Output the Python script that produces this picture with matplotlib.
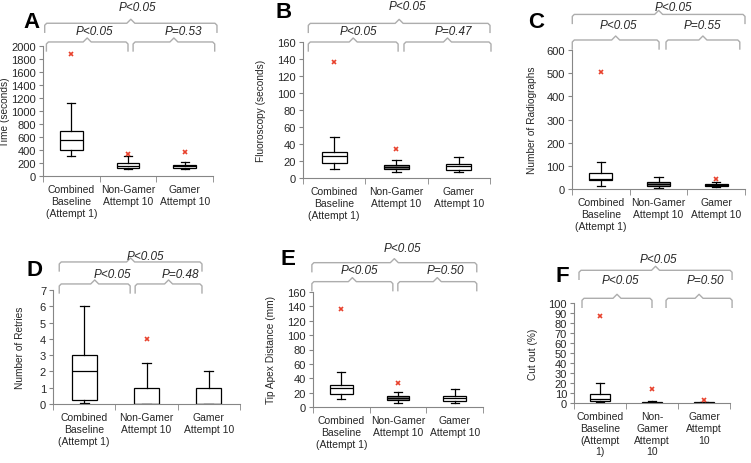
import matplotlib
matplotlib.use('Agg')
import matplotlib.pyplot as plt

plt.rcParams['font.family'] = ['Liberation Sans', 'DejaVu Sans']

# category labels
groups = ['Combined\nBaseline\n(Attempt 1)', 'Non-Gamer\nAttempt 10', 'Gamer\nAttempt 10']
groups_f = ['Combined\nBaseline\n(Attempt\n1)', 'Non-\nGamer\nAttempt\n10', 'Gamer\nAttempt\n10']

# A - time (seconds)
time_q1 = [400, 122, 128]
time_med = [550, 160, 148]
time_q3 = [690, 205, 170]
time_lo = [305, 110, 103]
time_hi = [1120, 305, 218]
time_out = [[1870], [345], [368]]

# B - fluoroscopy (seconds)
fluoro_q1 = [18, 10.5, 10]
fluoro_med = [26, 13, 14]
fluoro_q3 = [31, 15.5, 17]
fluoro_lo = [11, 6.5, 6.5]
fluoro_hi = [48, 21, 25]
fluoro_out = [[137], [34], []]

# C - number of radiographs
radio_q1 = [37, 11, 14]
radio_med = [45, 20, 17]
radio_q3 = [68, 31, 21]
radio_lo = [11, 3, 7]
radio_hi = [115, 50, 30]
radio_out = [[503], [], [45]]

# D - number of retries
retry_q1 = [0.25, 0, 0]
retry_med = [2, 0, 0]
retry_q3 = [3, 1, 1]
retry_lo = [0.05, 0, 0]
retry_hi = [6, 2.5, 2]
retry_out = [[], [4], []]

# E - tip apex distance (mm)
tad_q1 = [17.5, 9.5, 8.5]
tad_med = [26, 12, 13]
tad_q3 = [31, 15.5, 16]
tad_lo = [11, 6, 6]
tad_hi = [49, 21, 24.5]
tad_out = [[137], [34], []]

# F - cut out (%)
cut_q1 = [2, 0, 0]
cut_med = [4, 0.5, 0.5]
cut_q3 = [9, 1, 1]
cut_lo = [1, 0, 0]
cut_hi = [20.5, 2, 1]
cut_out = [[87], [14], [3]]

W, H = 751, 464
fig = plt.figure(figsize=(W / 100, H / 100), dpi=100)

gray = '#868686'
red = '#e8412c'

# panel layout in pixels: left, top, right, bottom
panels = [
    dict(letter='A', box=(43, 47, 213, 177), lpos=(32, 23), ylabel='Time (seconds)', ylx=-0.195,
         q1=time_q1, med=time_med, q3=time_q3, lo=time_lo, hi=time_hi, out=time_out,
         ylim=2000, step=200, labels=groups, fill=['white', 'white', 'white'],
         br=[(-0.47, 2.57, 1.175, 1.17, 1.298, 'P<0.05'),
             (-0.44, 1.0, 1.031, 0.41, 1.113, 'P<0.05'),
             (1.09, 2.53, 1.031, 1.97, 1.113, 'P=0.53')]),
    dict(letter='B', box=(303, 43, 490, 179), lpos=(284, 13), ylabel='Fluoroscopy (seconds)', ylx=-0.2,
         q1=fluoro_q1, med=fluoro_med, q3=fluoro_q3, lo=fluoro_lo, hi=fluoro_hi, out=fluoro_out,
         ylim=160, step=20, labels=groups, fill=['white', '#7f7f7f', 'white'],
         br=[(-0.415, 2.5, 1.137, 1.17, 1.262, 'P<0.05'),
             (-0.415, 1.026, 1.0, 0.386, 1.078, 'P<0.05'),
             (1.12, 2.516, 1.0, 1.907, 1.078, 'P=0.47')]),
    dict(letter='C', box=(572, 51, 745, 190), lpos=(536, 23), ylabel='Number of Radiographs', ylx=-0.2,
         q1=radio_q1, med=radio_med, q3=radio_q3, lo=radio_lo, hi=radio_hi, out=radio_out,
         ylim=600, step=100, labels=groups, fill=['white', '#7f7f7f', '#1a1a1a'],
         br=[(-0.495, 2.5, 1.256, 1.25, 1.31, 'P<0.05'),
             (-0.495, 1.01, 1.072, 0.30, 1.177, 'P<0.05'),
             (1.13, 2.41, 1.072, 1.76, 1.177, 'P=0.55')]),
    dict(letter='D', box=(53, 291, 240, 405), lpos=(34, 271), ylabel='Number of Retries', ylx=-0.15,
         q1=retry_q1, med=retry_med, q3=retry_q3, lo=retry_lo, hi=retry_hi, out=retry_out,
         ylim=7, step=1, labels=groups, fill=['white', 'white', 'white'],
         br=[(-0.4, 1.89, 1.246, 0.98, 1.298, 'P<0.05'),
             (-0.4, 0.738, 1.053, 0.45, 1.14, 'P<0.05'),
             (0.818, 1.89, 1.053, 1.54, 1.14, 'P=0.48')]),
    dict(letter='E', box=(313, 293, 483, 408), lpos=(288, 260), ylabel='Tip Apex Distance (mm)', ylx=-0.22,
         q1=tad_q1, med=tad_med, q3=tad_q3, lo=tad_lo, hi=tad_hi, out=tad_out,
         ylim=160, step=20, labels=groups, fill=['white', '#7f7f7f', 'white'],
         br=[(-0.52, 2.39, 1.255, 1.086, 1.383, 'P<0.05'),
             (-0.52, 0.909, 1.09, 0.325, 1.19, 'P<0.05'),
             (0.997, 2.39, 1.09, 1.83, 1.19, 'P=0.50')]),
    dict(letter='F', box=(574, 304, 730, 404), lpos=(562, 276), ylabel='Cut out (%)', ylx=-0.23,
         q1=cut_q1, med=cut_med, q3=cut_q3, lo=cut_lo, hi=cut_hi, out=cut_out,
         ylim=100, step=10, labels=groups_f, fill=['white', 'white', 'white'],
         br=[(-0.404, 2.54, 1.327, 1.115, 1.437, 'P<0.05'),
             (-0.346, 1.0, 1.047, 0.385, 1.227, 'P<0.05'),
             (1.27, 2.54, 1.047, 2.02, 1.227, 'P=0.50')]),
]


def bracket(ax, x0, x1, y, hpx, wpx, drop=9, notch=4, half=4):
    d = drop / hpx
    n = notch / hpx
    dx = half / wpx * 3
    r = 2 / wpx * 3
    xm = (x0 + x1) / 2
    xs = [x0, x0, x0 + r, xm - dx, xm, xm + dx, x1 - r, x1, x1]
    ys = [y - d, y - 2 / hpx, y, y, y + n, y, y, y - 2 / hpx, y - d]
    ax.plot(xs, ys, transform=ax.get_xaxis_transform(), clip_on=False,
            color='#adadad', lw=1)


for p in panels:
    l, t, r, b = p['box']
    ax = fig.add_axes([l / W, 1 - b / H, (r - l) / W, (b - t) / H])
    hpx, wpx = b - t, r - l
    stats = []
    for i in range(3):
        stats.append(dict(med=p['med'][i], q1=p['q1'][i], q3=p['q3'][i],
                          whislo=p['lo'][i], whishi=p['hi'][i], fliers=p['out'][i]))
    res = ax.bxp(stats, positions=[0, 1, 2], widths=0.4, patch_artist=True,
                 capwidths=0.14,
                 boxprops=dict(edgecolor='black', lw=0.9),
                 medianprops=dict(color='black', lw=0.9),
                 whiskerprops=dict(color='black', lw=0.9),
                 capprops=dict(color='black', lw=0.9),
                 flierprops=dict(marker='x', mec=red, mfc=red, ms=3.5, mew=1.2, ls='none'))
    for patch, fc in zip(res['boxes'], p['fill']):
        patch.set_facecolor(fc)

    ax.set_xlim(-0.5, 2.5)
    ax.set_ylim(0, p['ylim'])
    ax.set_yticks([k * p['step'] for k in range(int(round(p['ylim'] / p['step'])) + 1)])
    ax.set_xticks([0, 1, 2])
    ax.set_xticklabels(p['labels'], fontsize=7.5, linespacing=1.2, color='#262626')
    ax.set_xticks([-0.5, 0.5, 1.5, 2.5], minor=True)
    ax.tick_params(axis='x', which='major', length=0, pad=6)
    ax.tick_params(axis='x', which='minor', length=4, color=gray, direction='out')
    ax.tick_params(axis='y', length=3, color=gray, labelsize=8, labelcolor='#262626', pad=2)
    for s in ['top', 'right']:
        ax.spines[s].set_visible(False)
    for s in ['left', 'bottom']:
        ax.spines[s].set_color(gray)
        ax.spines[s].set_linewidth(0.8)
    ax.set_ylabel(p['ylabel'], fontsize=7.3, color='#262626')
    ax.yaxis.set_label_coords(p['ylx'], 0.5)

    for x0, x1, y, tx, ty, s in p['br']:
        bracket(ax, x0, x1, y, hpx, wpx)
        ax.text(tx, ty, s, transform=ax.get_xaxis_transform(), ha='center', va='center',
                style='italic', fontsize=8.5, color='#262626', clip_on=False)

    fig.text(p['lpos'][0] / W, 1 - p['lpos'][1] / H, p['letter'], fontsize=16,
             fontweight='bold', ha='center', va='center')

fig.savefig('out.png', dpi=100)
